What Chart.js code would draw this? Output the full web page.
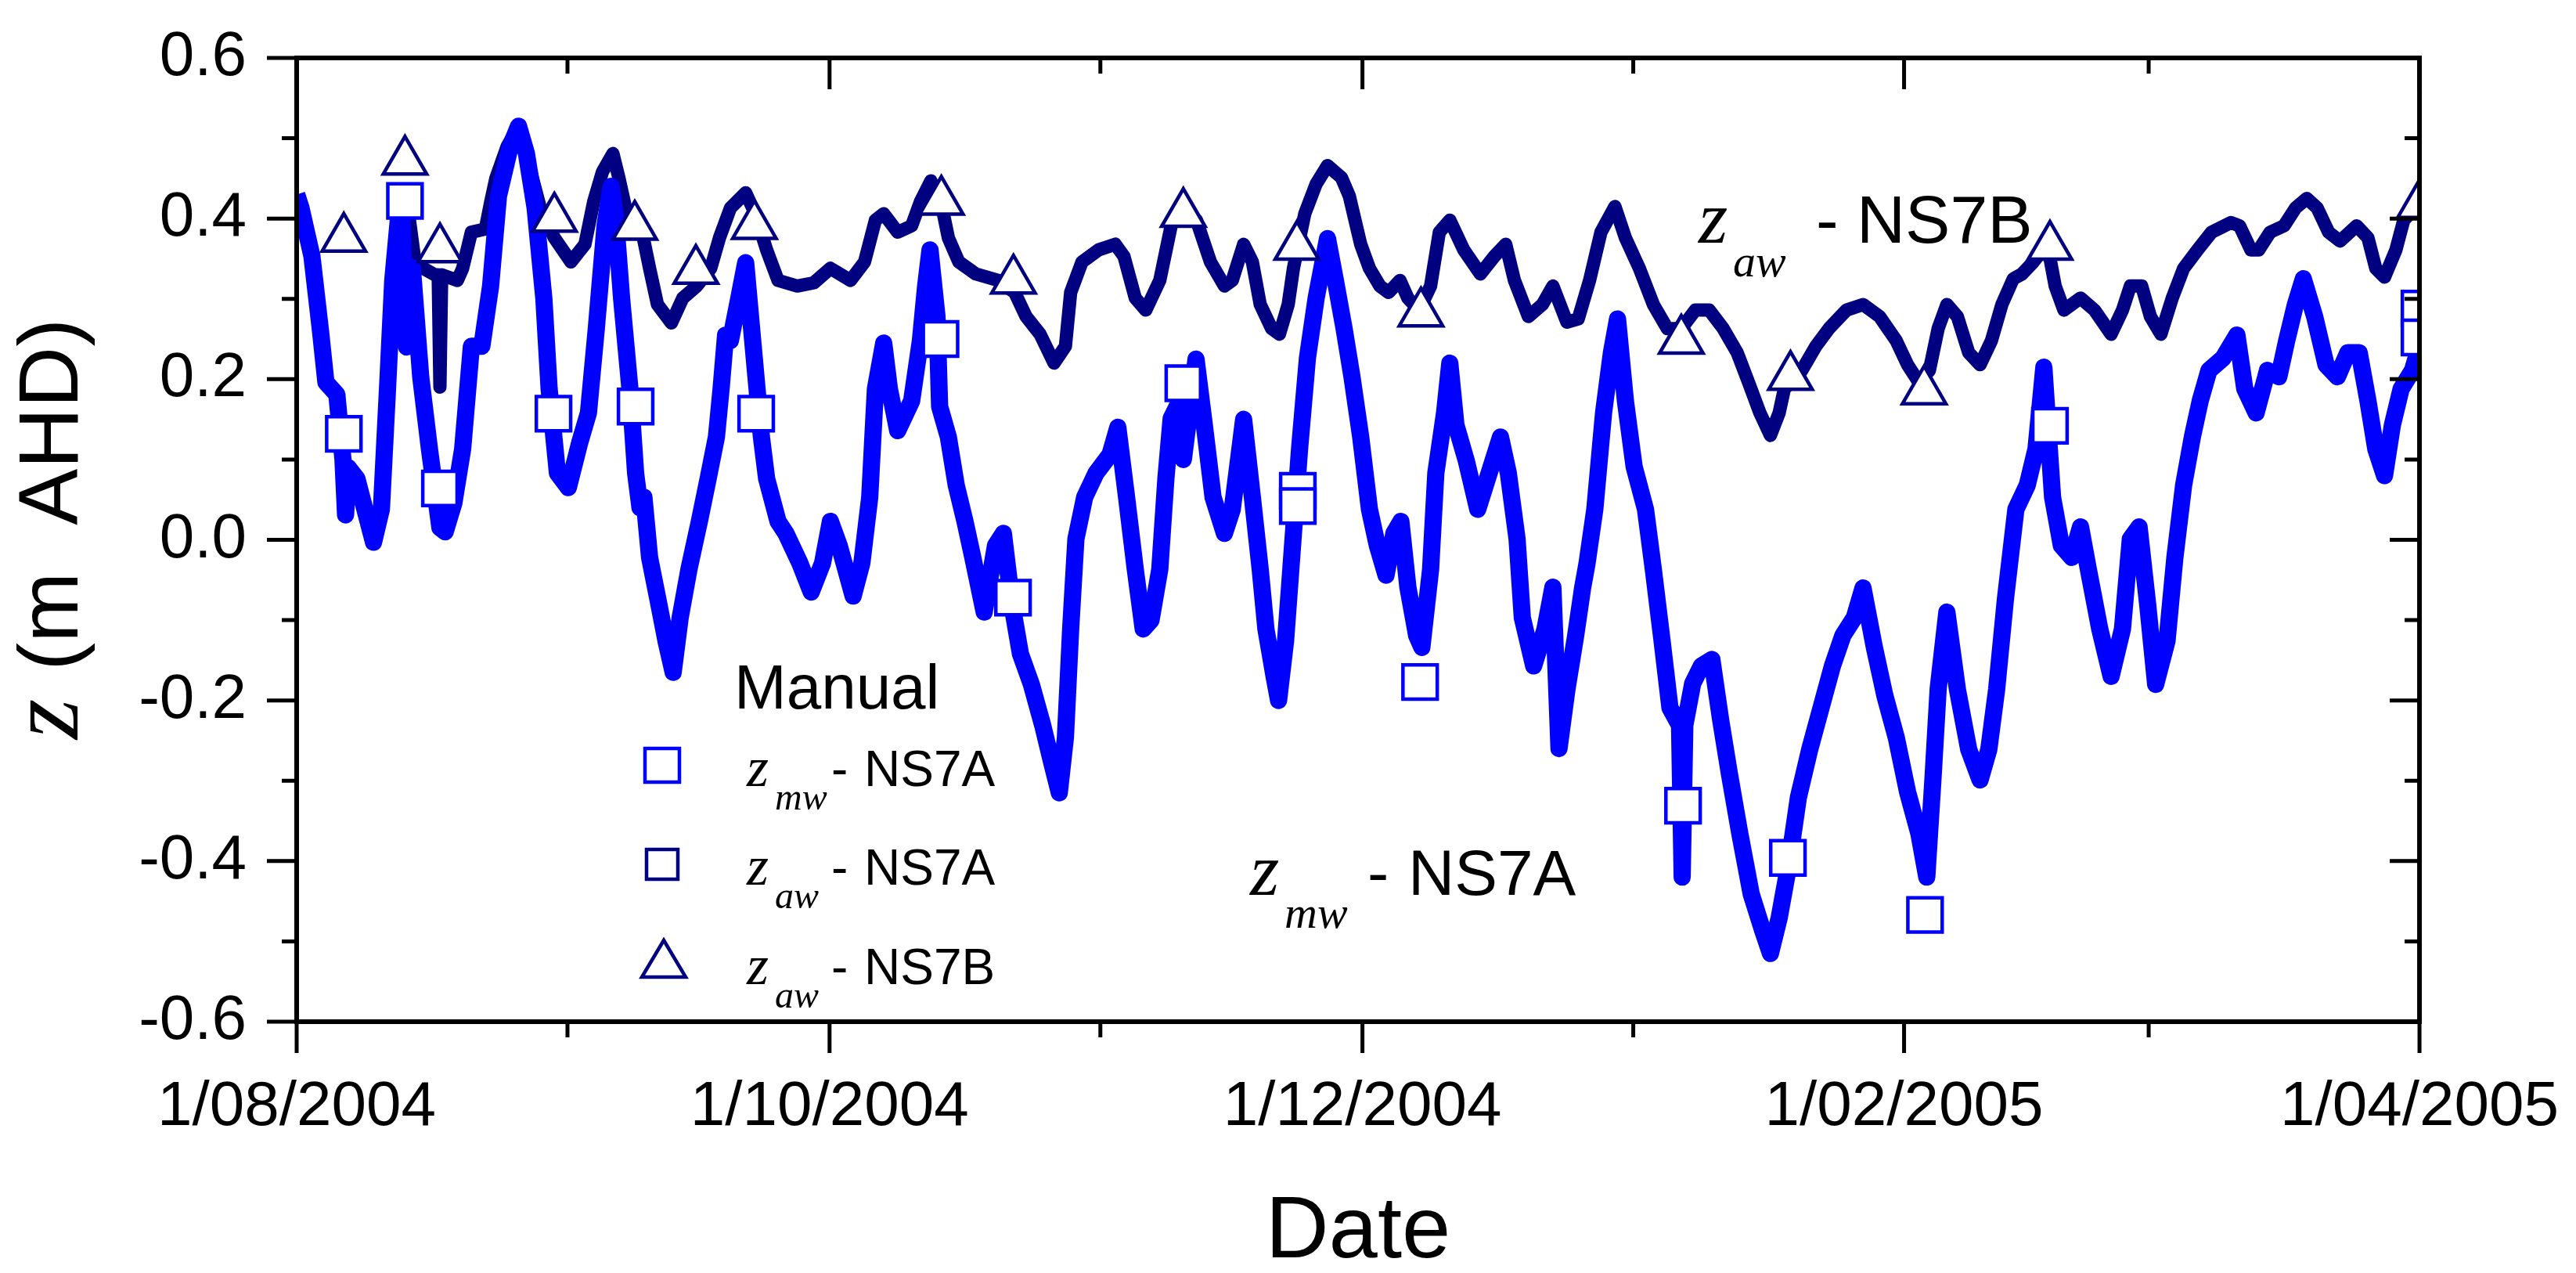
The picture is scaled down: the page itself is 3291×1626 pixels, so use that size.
<!DOCTYPE html>
<html>
<head>
<meta charset="utf-8">
<script src="https://cdn.jsdelivr.net/npm/chart.js@4.4.1/dist/chart.umd.min.js"></script>
<style>
  html, body { margin: 0; padding: 0; background: #fff; }
  canvas { display: block; }
</style>
</head>
<body>
<canvas id="chart" width="3291" height="1626"></canvas>
<script>
// x = days since 1/08/2004, y = z (m AHD)

// continuous logger, z_mw - NS7A
const ns7aDays = [0, 0.5, 1.75, 2.7, 3.35, 4.6, 5.3, 5.6, 5.9, 6.9, 8.0, 8.8, 9.7, 10.4, 11.0, 11.65, 12.0, 12.3, 12.6, 13.0,
  13.25, 14.2, 15.2, 16.4, 17.0, 18.0, 19.0, 20.0, 21.2, 22.2, 23.1, 24.4, 25.4, 26.3, 27.3, 28.3, 28.9, 29.85, 31.1, 32.4,
  33.4, 34.3, 35.3, 36.0, 36.5, 37.2, 38.15, 38.8, 39.3, 39.75, 40.4, 41.35, 42.3, 43.1, 43.9, 44.9, 46.1, 47.1, 48.05, 48.6,
  49.1, 49.65, 50.6, 51.4, 52.2, 53.2, 53.8, 55.1, 56.0, 57.6, 58.9, 60.2, 61.1, 62.1, 63.7, 64.7, 65.6, 66.25, 67.2, 67.85,
  68.8, 70.4, 71.4, 72.0, 72.5, 73.3, 73.6, 74.6, 75.5, 76.5, 77.4, 78.7, 80.0, 80.9, 81.9, 82.85, 84.1, 85.4, 86.4, 87.3,
  88.0, 88.6, 89.2, 90.2, 91.5, 93.1, 94.0, 95.0, 96.0, 96.9, 97.8, 98.8, 99.5, 100.1, 101.1, 101.5, 102.0, 102.95, 103.9, 104.9,
  106.2, 107.1, 108.4, 109.4, 110.3, 110.95, 111.9, 112.4, 113.2, 113.8, 114.8, 115.7, 116.7, 118.0, 118.9, 119.9, 120.8, 121.8, 122.8, 123.7,
  124.7, 125.6, 126.4, 127.2, 128.2, 128.8, 129.8, 130.4, 131.4, 132.0, 132.7, 133.9, 135.2, 136.5, 137.8, 138.7, 139.7, 140.3, 141.6, 142.9,
  143.8, 144.5, 145.4, 146.4, 147.2, 147.7, 148.6, 149.6, 150.5, 151.2, 152.1, 153.1, 154.4, 155.3, 156.3, 157.2, 158.3, 158.6, 158.9, 159.8,
  160.8, 162.0, 163.0, 164.0, 165.2, 166.5, 167.8, 168.7, 169.7, 170.7, 171.9, 173.2, 174.5, 175.8, 177.0, 178.3, 179.3, 180.6, 181.8, 183.1,
  184.4, 185.7, 186.6, 187.3, 187.9, 188.9, 190.1, 191.4, 192.7, 193.7, 194.6, 195.6, 196.8, 198.1, 199.1, 200.0, 201.0, 202.0, 203.2, 204.2,
  205.1, 206.4, 207.7, 209.0, 209.9, 210.9, 211.9, 212.8, 214.1, 215.0, 216.0, 217.0, 217.9, 218.9, 220.5, 222.1, 223.0, 224.3, 225.6, 226.9,
  227.8, 228.8, 229.7, 231.0, 232.3, 233.6, 234.8, 236.1, 237.1, 238.0, 239.0, 239.9, 240.9, 242.2, 243];
const ns7aZ = [0.43, 0.413, 0.353, 0.263, 0.196, 0.181, 0.10, 0.031, 0.09, 0.076, 0.03, -0.003, 0.038, 0.188, 0.323, 0.40, 0.42, 0.30, 0.24, 0.34,
  0.338, 0.203, 0.113, 0.015, 0.01, 0.046, 0.113, 0.241, 0.241, 0.316, 0.428, 0.488, 0.515, 0.481, 0.413, 0.30, 0.188, 0.083, 0.065, 0.121,
  0.158, 0.263, 0.391, 0.44, 0.40, 0.30, 0.188, 0.083, 0.04, 0.053, -0.022, -0.074, -0.127, -0.165, -0.097, -0.037, 0.023, 0.076, 0.128, 0.19,
  0.255, 0.248, 0.30, 0.345, 0.248, 0.128, 0.076, 0.023, 0.008, -0.029, -0.065, -0.029, 0.023, -0.007, -0.07, -0.029, 0.053, 0.188, 0.245, 0.188,
  0.136, 0.173, 0.248, 0.316, 0.361, 0.278, 0.166, 0.128, 0.068, 0.023, -0.022, -0.09, -0.007, 0.008, -0.082, -0.142, -0.18, -0.231, -0.276, -0.315,
  -0.246, -0.111, 0.001, 0.053, 0.083, 0.106, 0.14, 0.053, -0.037, -0.111, -0.10, -0.037, 0.076, 0.151, 0.173, 0.10, 0.143, 0.225, 0.143, 0.053,
  0.008, 0.038, 0.15, 0.053, -0.037, -0.111, -0.171, -0.20, -0.126, -0.037, 0.113, 0.226, 0.301, 0.375, 0.323, 0.263, 0.203, 0.128, 0.038, -0.007,
  -0.044, 0.008, 0.023, -0.059, -0.119, -0.134, -0.037, 0.083, 0.158, 0.22, 0.143, 0.098, 0.038, 0.083, 0.128, 0.083, 0.001, -0.097, -0.157, -0.111,
  -0.059, -0.26, -0.187, -0.12, -0.06, -0.03, 0.038, 0.158, 0.233, 0.275, 0.173, 0.091, 0.038, -0.037, -0.126, -0.209, -0.231, -0.42, -0.231, -0.179,
  -0.157, -0.149, -0.224, -0.291, -0.366, -0.441, -0.486, -0.515, -0.471, -0.411, -0.321, -0.261, -0.209, -0.157, -0.119, -0.097, -0.06, -0.134, -0.194, -0.246,
  -0.314, -0.366, -0.42, -0.299, -0.186, -0.09, -0.186, -0.261, -0.299, -0.261, -0.186, -0.074, 0.038, 0.068, 0.113, 0.215, 0.053, -0.007, -0.022, 0.016,
  -0.037, -0.111, -0.17, -0.111, 0.001, 0.016, -0.082, -0.18, -0.126, -0.022, 0.068, 0.128, 0.173, 0.211, 0.226, 0.255, 0.188, 0.158, 0.211, 0.203,
  0.248, 0.293, 0.325, 0.278, 0.218, 0.203, 0.233, 0.233, 0.173, 0.113, 0.08, 0.143, 0.188, 0.211, 0.241];

// continuous logger, z_aw - NS7B
const ns7bDays = [12.4, 13.5, 14.5, 15.8, 16.2, 16.4, 16.6, 18.4, 19.0, 20.0, 21.6, 22.2, 22.8, 24.1, 25.4, 26.3, 27.0, 27.9, 29.5, 31.4,
  33.0, 34.0, 35.0, 36.2, 36.9, 37.8, 39.4, 40.4, 41.3, 42.9, 44.2, 45.8, 47.4, 48.4, 49.65, 51.4, 52.5, 53.8, 55.1, 57.3,
  59.2, 61.1, 63.4, 65.0, 66.25, 67.2, 68.8, 70.4, 71.4, 72.6, 73.9, 74.6, 75.8, 77.75, 80.3, 82.2, 83.5, 85.1, 86.7, 88.0,
  88.6, 89.9, 91.8, 93.7, 94.7, 96.0, 97.2, 98.8, 100.1, 101.4, 103.0, 104.6, 106.2, 107.1, 108.4, 109.4, 110.3, 111.6, 112.5, 113.5,
  114.1, 115.4, 116.7, 118.0, 119.6, 120.5, 121.8, 122.8, 124.0, 125.0, 126.3, 127.2, 128.5, 129.8, 130.8, 132.0, 133.6, 135.5, 137.1, 138.4,
  139.4, 141.0, 142.6, 143.8, 145.4, 146.7, 148.0, 149.3, 150.9, 152.1, 153.7, 155.3, 156.9, 158.5, 160.1, 161.7, 163.3, 164.9, 166.2, 167.5,
  168.7, 169.7, 170.3, 172.3, 173.9, 175.4, 177.4, 179.3, 181.2, 183.1, 184.4, 185.7, 186.9, 187.9, 188.9, 190.1, 191.4, 192.7, 194.0, 195.2,
  196.5, 197.5, 198.8, 200.4, 201.3, 202.3, 204.2, 205.8, 207.7, 209.0, 209.9, 211.2, 212.2, 213.4, 214.7, 216.0, 217.6, 219.2, 221.4, 222.4,
  223.7, 224.6, 225.9, 227.5, 228.8, 230.1, 231.3, 232.6, 233.9, 235.8, 237.1, 238.0, 239.0, 240.3, 241.2, 242.5, 243];
const ns7bZ = [0.44, 0.35, 0.338, 0.33, 0.33, 0.19, 0.33, 0.323, 0.338, 0.383, 0.387, 0.42, 0.45, 0.49, 0.515, 0.48, 0.45, 0.413, 0.376, 0.346,
  0.368, 0.421, 0.458, 0.481, 0.45, 0.406, 0.391, 0.338, 0.293, 0.27, 0.301, 0.316, 0.338, 0.376, 0.413, 0.432, 0.406, 0.361, 0.323, 0.316,
  0.32, 0.338, 0.323, 0.346, 0.398, 0.406, 0.383, 0.391, 0.421, 0.447, 0.413, 0.376, 0.346, 0.331, 0.323, 0.308, 0.278, 0.256, 0.22, 0.241,
  0.308, 0.346, 0.361, 0.368, 0.353, 0.301, 0.286, 0.323, 0.391, 0.413, 0.398, 0.346, 0.316, 0.323, 0.368, 0.346, 0.293, 0.263, 0.256, 0.293,
  0.338, 0.406, 0.443, 0.466, 0.451, 0.428, 0.368, 0.338, 0.316, 0.308, 0.323, 0.301, 0.286, 0.316, 0.383, 0.398, 0.361, 0.331, 0.353, 0.368,
  0.323, 0.278, 0.293, 0.316, 0.271, 0.275, 0.323, 0.383, 0.415, 0.376, 0.338, 0.293, 0.263, 0.263, 0.286, 0.286, 0.263, 0.233, 0.196, 0.158,
  0.13, 0.158, 0.188, 0.211, 0.241, 0.263, 0.286, 0.293, 0.278, 0.248, 0.218, 0.196, 0.211, 0.263, 0.293, 0.278, 0.233, 0.218, 0.248, 0.293,
  0.325, 0.331, 0.346, 0.368, 0.316, 0.286, 0.301, 0.286, 0.256, 0.286, 0.316, 0.316, 0.278, 0.256, 0.301, 0.338, 0.361, 0.383, 0.395, 0.391,
  0.361, 0.361, 0.383, 0.391, 0.413, 0.425, 0.413, 0.383, 0.372, 0.391, 0.376, 0.338, 0.327, 0.361, 0.398, 0.413, 0.421];

// manual readings
const manualADays = [5.4, 12.4, 16.4, 29.4, 38.8, 52.6, 73.7, 82.0, 101.5, 114.6, 114.6, 128.6, 158.7, 170.7, 186.4, 200.7, 243, 243];
const manualAZ = [0.132, 0.422, 0.064, 0.157, 0.166, 0.157, 0.25, -0.072, 0.195, 0.061, 0.042, -0.177, -0.331, -0.396, -0.467, 0.142, 0.288, 0.252];
const manualBDays = [5.4, 12.4, 16.4, 29.5, 38.7, 45.7, 52.4, 73.8, 82.05, 101.5, 114.5, 128.7, 158.5, 171.0, 186.3, 200.7, 243];
const manualBZ = [0.375, 0.471, 0.362, 0.40, 0.39, 0.335, 0.391, 0.421, 0.323, 0.406, 0.365, 0.282, 0.248, 0.203, 0.185, 0.365, 0.417];

// axes
const xTickDays = [0, 31, 61, 92, 122, 153, 184, 212, 243];
const xTickLabels = ['1/08/2004', '', '1/10/2004', '', '1/12/2004', '', '1/02/2005', '', '1/04/2005'];
const yTickValues = [-0.6, -0.5, -0.4, -0.3, -0.2, -0.1, 0, 0.1, 0.2, 0.3, 0.4, 0.5, 0.6];
const yTickLabels = ['-0.6', '', '-0.4', '', '-0.2', '', '0.0', '', '0.2', '', '0.4', '', '0.6'];

const BLUE = '#0000FF';
const NAVY = '#000080';
const SANS = '"Liberation Sans", Arial, sans-serif';
const SERIF = '"Liberation Serif", "Times New Roman", serif';

const toPoints = (xs, ys) => xs.map((x, i) => ({ x: x, y: ys[i] }));

// frame + ticks (major long, minor short; out on bottom/left, in on top/right)
const framePlugin = {
  id: 'frame',
  afterDatasetsDraw(chart) {
    const ctx = chart.ctx;
    const a = chart.chartArea;
    const xs = chart.scales.x, ys = chart.scales.y;
    ctx.save();
    ctx.strokeStyle = '#000';
    ctx.lineWidth = 6;
    ctx.lineCap = 'square';
    ctx.strokeRect(a.left, a.top, a.right - a.left, a.bottom - a.top);
    ctx.lineWidth = 5;
    ctx.lineCap = 'butt';
    ctx.beginPath();
    xTickDays.forEach((d, i) => {
      const px = xs.getPixelForValue(d);
      const len = xTickLabels[i] ? 40 : 20;
      ctx.moveTo(px, a.bottom); ctx.lineTo(px, a.bottom + len);
      ctx.moveTo(px, a.top); ctx.lineTo(px, a.top + len);
    });
    yTickValues.forEach((v, i) => {
      const py = ys.getPixelForValue(v);
      const len = yTickLabels[i] ? 38 : 19;
      ctx.moveTo(a.left, py); ctx.lineTo(a.left - len, py);
      ctx.moveTo(a.right, py); ctx.lineTo(a.right - len, py);
    });
    ctx.stroke();
    ctx.restore();
  }
};

function zLabel(ctx, x, base, zSize, sub, subSize, subDx, subDy, dashX, textX, text, textSize) {
  ctx.fillStyle = '#000';
  ctx.textAlign = 'left';
  ctx.textBaseline = 'alphabetic';
  ctx.font = 'italic ' + zSize + 'px ' + SERIF;
  ctx.fillText('z', x, base);
  ctx.font = 'italic ' + subSize + 'px ' + SERIF;
  ctx.fillText(sub, x + subDx, base + subDy);
  ctx.font = textSize + 'px ' + SANS;
  ctx.fillText('-', dashX, base);
  ctx.fillText(text, textX, base);
}

const textPlugin = {
  id: 'texts',
  afterDraw(chart) {
    const ctx = chart.ctx;
    const a = chart.chartArea;
    ctx.save();

    // y title: z (m  AHD), rotated
    ctx.translate(99, 944);
    ctx.rotate(-Math.PI / 2);
    ctx.fillStyle = '#000';
    ctx.textBaseline = 'alphabetic';
    ctx.textAlign = 'left';
    ctx.font = 'italic 132px ' + SERIF;
    ctx.fillText('z', 0, 0);
    const zw = ctx.measureText('z').width;
    ctx.font = '108px ' + SANS;
    ctx.fillText(' (m  AHD)', zw + 6, 0);
    ctx.restore();

    ctx.save();
    // x title
    ctx.fillStyle = '#000';
    ctx.font = '112px ' + SANS;
    ctx.textAlign = 'center';
    ctx.textBaseline = 'alphabetic';
    ctx.fillText('Date', (a.left + a.right) / 2, 1606);

    // in-plot labels
    zLabel(ctx, 1597, 1143, 96, 'mw', 58, 44, 42, 1747, 1799, 'NS7A', 82);
    zLabel(ctx, 2170, 310, 96, 'aw', 58, 44, 43, 2320, 2372, 'NS7B', 86);

    // legend
    ctx.fillStyle = '#000';
    ctx.textAlign = 'left';
    ctx.font = '80px ' + SANS;
    ctx.fillText('Manual', 938, 905);
    zLabel(ctx, 954, 1004, 72, 'mw', 48, 36, 30, 1062, 1104, 'NS7A', 64);
    zLabel(ctx, 954, 1130, 72, 'aw', 48, 36, 30, 1062, 1104, 'NS7A', 64);
    zLabel(ctx, 954, 1257, 72, 'aw', 48, 36, 30, 1062, 1104, 'NS7B', 64);

    ctx.lineWidth = 4.5;
    ctx.fillStyle = '#fff';
    ctx.strokeStyle = BLUE;
    ctx.fillRect(824, 956, 44, 43);
    ctx.strokeRect(824, 956, 44, 43);
    ctx.strokeStyle = NAVY;
    ctx.fillRect(826, 1085, 40, 38);
    ctx.strokeRect(826, 1085, 40, 38);
    ctx.beginPath();
    ctx.moveTo(848, 1201);
    ctx.lineTo(876, 1248);
    ctx.lineTo(820, 1248);
    ctx.closePath();
    ctx.fill();
    ctx.stroke();
    ctx.restore();
  }
};

new Chart(document.getElementById('chart'), {
  type: 'scatter',
  data: {
    datasets: [
      {
        label: 'z_mw - NS7A (manual)',
        data: toPoints(manualADays, manualAZ),
        pointStyle: 'rect',
        pointRadius: 31,
        pointBorderWidth: 4.5,
        pointBorderColor: BLUE,
        pointBackgroundColor: '#fff',
        showLine: false,
        clip: 0,
        order: 0
      },
      {
        label: 'z_aw - NS7B (manual)',
        data: toPoints(manualBDays, manualBZ),
        pointStyle: 'triangle',
        pointRadius: 32,
        pointBorderWidth: 4.5,
        pointBorderColor: NAVY,
        pointBackgroundColor: '#fff',
        showLine: false,
        clip: 0,
        order: 0
      },
      {
        label: 'z_mw - NS7A',
        data: toPoints(ns7aDays, ns7aZ),
        showLine: true,
        borderColor: BLUE,
        borderWidth: 22,
        borderJoinStyle: 'round',
        pointRadius: 0,
        tension: 0,
        clip: 0,
        order: 1
      },
      {
        label: 'z_aw - NS7B',
        data: toPoints(ns7bDays, ns7bZ),
        showLine: true,
        borderColor: NAVY,
        borderWidth: 17,
        borderJoinStyle: 'round',
        pointRadius: 0,
        tension: 0,
        clip: 0,
        order: 2
      }
    ]
  },
  options: {
    responsive: false,
    animation: false,
    devicePixelRatio: 1,
    layout: { padding: { top: 62, right: 194, left: 0, bottom: 0 } },
    plugins: { legend: { display: false }, tooltip: { enabled: false } },
    scales: {
      x: {
        type: 'linear',
        min: 0,
        max: 243,
        afterBuildTicks: (scale) => { scale.ticks = xTickDays.map(v => ({ value: v })); },
        afterFit: (scale) => { scale.height = 321; },
        grid: { drawOnChartArea: false, drawTicks: true, tickLength: 40, color: 'rgba(0,0,0,0)' },
        border: { display: false },
        ticks: {
          autoSkip: false,
          maxRotation: 0,
          padding: 22,
          color: '#000',
          font: { family: SANS, size: 80 },
          callback: (v, i) => xTickLabels[i]
        }
      },
      y: {
        min: -0.6,
        max: 0.6,
        afterBuildTicks: (scale) => { scale.ticks = yTickValues.map(v => ({ value: v })); },
        afterFit: (scale) => { scale.width = 379; },
        grid: { drawOnChartArea: false, drawTicks: true, tickLength: 38, color: 'rgba(0,0,0,0)' },
        border: { display: false },
        ticks: {
          autoSkip: false,
          padding: 26,
          color: '#000',
          font: { family: SANS, size: 80 },
          callback: (v, i) => yTickLabels[i]
        }
      }
    }
  },
  plugins: [framePlugin, textPlugin]
});
</script>
</body>
</html>
